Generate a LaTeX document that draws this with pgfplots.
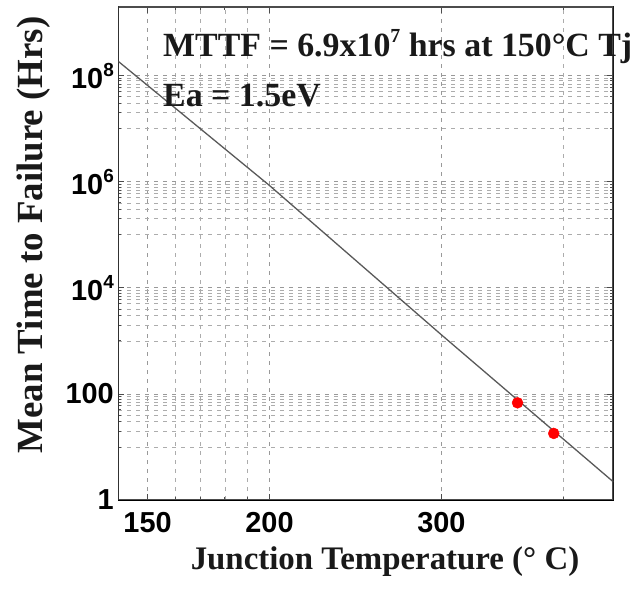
\documentclass[border=0pt]{standalone}
\usepackage{fontspec}
\setmainfont{Liberation Serif}
\newfontfamily\arial{Liberation Sans}
\usepackage{pgfplots}
\pgfplotsset{compat=1.18}
\newcommand{\sups}[1]{\raisebox{0.42em}{\fontsize{19}{19}\selectfont #1}}
\begin{document}
\begin{tikzpicture}
\useasboundingbox (0bp,0bp) rectangle (632bp,600bp);
\begin{axis}[
  at={(118.3bp,100bp)}, anchor=south west,
  scale only axis, width=495bp, height=493.3bp,
  xmode=log, ymode=log,
  xmin=140, xmax=450, ymin=1, ymax=2e9,
  xtick={150,200,300}, xticklabels={150,200,300},
  minor xtick={160,170,180,190,400},
  ytick={1,100,1e4,1e6,1e8},
  yticklabels={1,100,10\sups{4},10\sups{6},10\sups{8}},
  minor ytick={10,20,30,40,50,60,70,80,90,
    1000,2000,3000,4000,5000,6000,7000,8000,9000,
    1e5,2e5,3e5,4e5,5e5,6e5,7e5,8e5,9e5,
    1e7,2e7,3e7,4e7,5e7,6e7,7e7,8e7,9e7},
  grid=both,
  major grid style={gray!80, line width=0.7bp, dash pattern=on 4bp off 5bp},
  minor grid style={gray!65, line width=0.7bp, dash pattern=on 4bp off 5bp},
  tick align=inside,
  major tick length=6bp, minor tick length=3bp,
  tick style={black!70, line width=0.8bp},
  ticklabel style={font=\arial\bfseries\fontsize{29}{32}\selectfont},
  xticklabel style={yshift=-9bp},
  yticklabel style={xshift=-1bp},
]
\addplot[color=black!65, line width=1.3bp, no marks] coordinates {
  (140,1.86e8) (200,8.5e5) (300,1.3e3) (450,2.2)};
\addplot[only marks, mark=*, mark size=5.5bp, color=red, mark options={draw=red, fill=red}] coordinates {
  (359,68) (391,18)};
\draw[black!70, line width=1.8bp] (rel axis cs:0,0) rectangle (rel axis cs:1,1);
\end{axis}
\node[anchor=base west, inner sep=0pt, text=black!90] at (163bp,543.3bp)
  {\bfseries\fontsize{34}{40}\selectfont MTTF = 6.9x10\raisebox{0.42em}{\fontsize{20}{20}\selectfont 7} hrs at 150°C Tj};
\node[anchor=base west, inner sep=0pt, text=black!90] at (163bp,493.3bp)
  {\bfseries\fontsize{34}{40}\selectfont Ea = 1.5eV};
\node[anchor=base, inner sep=0pt, rotate=90, text=black!90] at (42bp,365bp)
  {\bfseries\fontsize{37}{40}\selectfont Mean Time to Failure (Hrs)};
\node[anchor=base, inner sep=0pt, text=black!90] at (385bp,31bp)
  {\bfseries\fontsize{33}{40}\selectfont Junction Temperature (° C)};
\end{tikzpicture}
\end{document}
